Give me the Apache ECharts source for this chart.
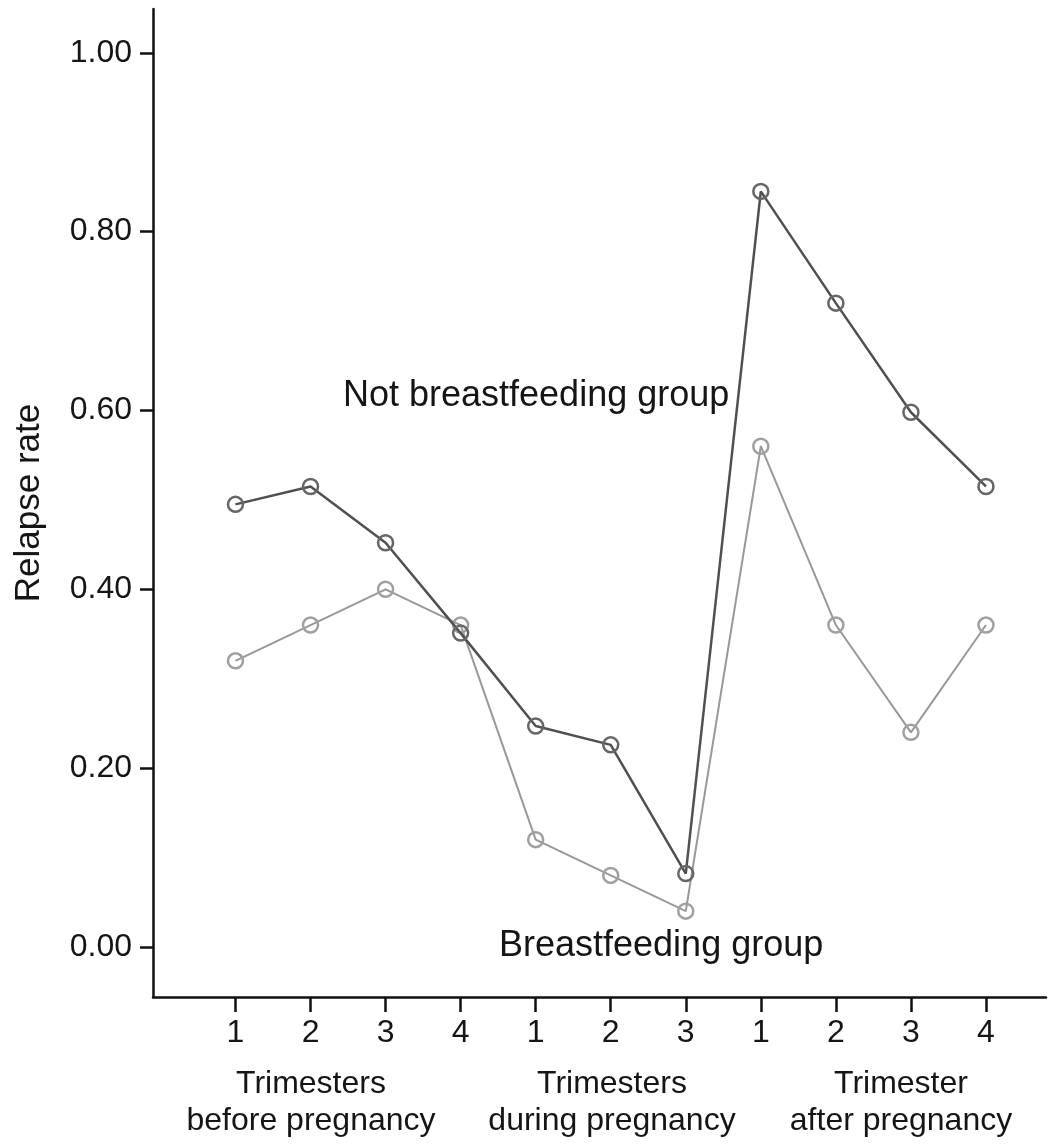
<!DOCTYPE html>
<html>
<head>
<meta charset="utf-8">
<script src="https://cdn.jsdelivr.net/npm/echarts@6/dist/echarts.min.js"></script>
<style>html,body{margin:0;padding:0;background:#fff;}#c{width:1052px;height:1146px;}</style>
</head>
<body>
<div id="c"></div>
<script>
var tickLabels = ['1','2','3','4','1','2','3','1','2','3','4'];
var notBreastfeeding = [0.495, 0.515, 0.452, 0.351, 0.247, 0.226, 0.082, 0.845, 0.720, 0.598, 0.515];
var breastfeeding = [0.320, 0.360, 0.400, 0.360, 0.120, 0.080, 0.040, 0.560, 0.360, 0.240, 0.360];
var yTicks = [0, 0.2, 0.4, 0.6, 0.8, 1.0];
var groupLabels = ['Trimesters\nbefore pregnancy', 'Trimesters\nduring pregnancy', 'Trimester\nafter pregnancy'];
var seriesNames = ['Not breastfeeding group', 'Breastfeeding group'];

var FONT = 'Liberation Sans, Arial, Helvetica, sans-serif';
var TXT = '#151515';
var idx = tickLabels.map(function(_, i){ return i; });
function pairs(arr){ return arr.map(function(v, i){ return [i, v]; }); }

var chart = echarts.init(document.getElementById('c'), null, {renderer: 'canvas'});
chart.setOption({
  backgroundColor: '#ffffff',
  animation: false,
  grid: {left: 153, right: 6, top: 9, bottom: 149, containLabel: false, outerBoundsMode: 'none'},
  xAxis: {
    type: 'value', min: -1.099, max: 10.8,
    splitLine: {show: false},
    axisLine: {show: true, onZero: false, lineStyle: {color: '#111', width: 2.5}},
    axisTick: {show: true, customValues: idx, length: 15, lineStyle: {color: '#111', width: 2.5}},
    axisLabel: {customValues: idx, margin: 20, color: TXT, fontSize: 32, fontFamily: FONT,
      formatter: function(v){ return tickLabels[Math.round(v)]; }}
  },
  yAxis: {
    type: 'value', min: -0.056, max: 1.049,
    name: 'Relapse rate', nameLocation: 'middle', nameGap: 106, nameRotate: 90,
    nameTextStyle: {fontSize: 35, color: TXT, fontFamily: FONT},
    splitLine: {show: false},
    axisLine: {show: true, onZero: false, lineStyle: {color: '#111', width: 2.5}},
    axisTick: {show: true, customValues: yTicks, length: 13, lineStyle: {color: '#111', width: 2.5}},
    axisLabel: {customValues: yTicks, margin: 21, color: TXT, fontSize: 32, fontFamily: FONT,
      formatter: function(v){ return v.toFixed(2); }}
  },
  series: [
    {
      name: seriesNames[1], type: 'line', data: pairs(breastfeeding),
      symbol: 'circle', symbolSize: 15, z: 2,
      lineStyle: {color: '#999999', width: 2},
      itemStyle: {color: 'rgba(0,0,0,0)', borderColor: '#a0a0a0', borderWidth: 2.5}
    },
    {
      name: seriesNames[0], type: 'line', data: pairs(notBreastfeeding),
      symbol: 'circle', symbolSize: 15, z: 3,
      lineStyle: {color: '#505050', width: 2.5},
      itemStyle: {color: 'rgba(0,0,0,0)', borderColor: '#666666', borderWidth: 2.5}
    }
  ],
  graphic: [
    {type: 'text', left: 343, top: 378, style: {text: seriesNames[0], fontSize: 36, fill: TXT, fontFamily: FONT}},
    {type: 'text', left: 499, top: 928, style: {text: seriesNames[1], fontSize: 36, fill: TXT, fontFamily: FONT}},
    {type: 'text', x: 311, y: 1066, style: {text: groupLabels[0], fontSize: 32, lineHeight: 37, fill: TXT, fontFamily: FONT, align: 'center'}},
    {type: 'text', x: 612, y: 1066, style: {text: groupLabels[1], fontSize: 32, lineHeight: 37, fill: TXT, fontFamily: FONT, align: 'center'}},
    {type: 'text', x: 901, y: 1066, style: {text: groupLabels[2], fontSize: 32, lineHeight: 37, fill: TXT, fontFamily: FONT, align: 'center'}}
  ]
});
</script>
</body>
</html>
